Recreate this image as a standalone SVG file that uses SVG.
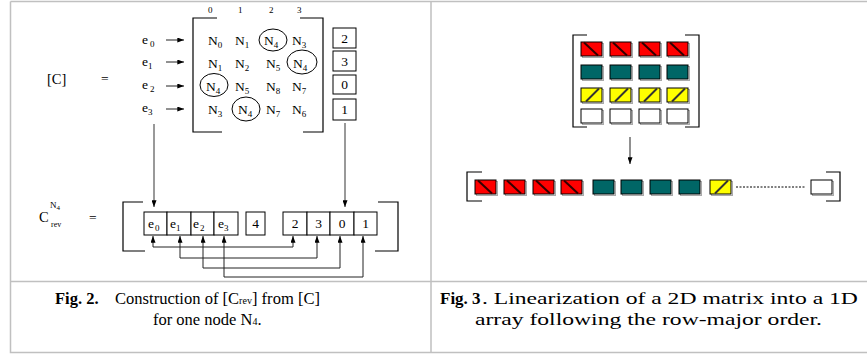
<svg xmlns="http://www.w3.org/2000/svg" xmlns:xlink="http://www.w3.org/1999/xlink" width="867" height="354" viewBox="0 0 867 354">
<style>
text{font-family:"Liberation Serif","Times New Roman",serif;fill:#000}
.t{font-size:13.5px}
.s{font-size:9px}
.idx{font-size:9px}
.cap{font-size:16.5px}
.b{font-weight:bold}
.frame{stroke:#c0c0c0;stroke-width:1.5;fill:none}
.br{stroke:#000;stroke-width:1.2;fill:none}
.cell{fill:#fff;stroke:#000;stroke-width:1}
.ln{stroke:#222;stroke-width:1;fill:none}
.gl{stroke:#555;stroke-width:1.2;fill:none}
.circ{fill:none;stroke:#000;stroke-width:1}
</style>
<defs>
<marker id="ah" viewBox="0 0 8 6" refX="8" refY="3" markerWidth="7" markerHeight="5" markerUnits="userSpaceOnUse" orient="auto-start-reverse"><path d="M0,0 L8,3 L0,6 z" fill="#000"/></marker>
<g id="red"><rect x="1.5" y="1.5" width="21" height="14" fill="none" stroke="#aaa"/><rect x="0" y="0" width="21" height="14" fill="#ff0000" stroke="#000"/><line x1="3" y1="0.5" x2="17" y2="13.5" stroke="#300" stroke-width="2"/></g>
<g id="teal"><rect x="1.5" y="1.5" width="21" height="14" fill="none" stroke="#aaa"/><rect x="0" y="0" width="21" height="14" fill="#006666" stroke="#000"/></g>
<g id="yel"><rect x="1.5" y="1.5" width="21" height="14" fill="none" stroke="#aaa"/><rect x="0" y="0" width="21" height="14" fill="#ffff00" stroke="#000"/><line x1="5" y1="13.5" x2="18" y2="0.5" stroke="#333" stroke-width="2"/></g>
<g id="wht"><rect x="1.5" y="1.5" width="21" height="14" fill="none" stroke="#aaa"/><rect x="0" y="0" width="21" height="14" fill="#fff" stroke="#000"/></g>
</defs>

<g id="table">
<path class="frame" d="M10.5,1.5 H867 M10.5,1.5 V352.5 H867 M431,1.5 V352.5 M10.5,281.5 H867"/>
</g>

<!-- Fig 2 -->
<g id="colIdx">
<text class="idx" x="208" y="13">0</text>
<text class="idx" x="238" y="13">1</text>
<text class="idx" x="269" y="13">2</text>
<text class="idx" x="297" y="13">3</text>
</g>

<g id="labelC">
<text font-size="14.5" x="47" y="84">[C]</text>
<text class="t" x="101" y="83">=</text>
</g>

<g id="eLabels">
<text class="t" x="142" y="44">e<tspan class="s" dx="2" dy="3">0</tspan></text>
<text class="t" x="142" y="66">e<tspan class="s" dy="3">1</tspan></text>
<text class="t" x="142" y="89">e<tspan class="s" dx="2" dy="3">2</tspan></text>
<text class="t" x="142" y="112">e<tspan class="s" dy="3">3</tspan></text>
</g>

<g id="matrixC">
<path class="br" d="M217,18 H193 V132 H222 M300,18 H323 V132 H303"/>
<text class="t" x="208" y="45">N<tspan class="s" dy="3">0</tspan></text>
<text class="t" x="235" y="45">N<tspan class="s" dy="3">1</tspan></text>
<text class="t" x="264" y="45">N<tspan class="s" dy="3">4</tspan></text>
<text class="t" x="292" y="45">N<tspan class="s" dy="3">3</tspan></text>
<text class="t" x="208" y="68">N<tspan class="s" dy="3">1</tspan></text>
<text class="t" x="235" y="68">N<tspan class="s" dy="3">2</tspan></text>
<text class="t" x="266" y="68">N<tspan class="s" dy="3">5</tspan></text>
<text class="t" x="293" y="68">N<tspan class="s" dy="3">4</tspan></text>
<text class="t" x="206" y="91">N<tspan class="s" dy="3">4</tspan></text>
<text class="t" x="235" y="91">N<tspan class="s" dy="3">5</tspan></text>
<text class="t" x="266" y="91">N<tspan class="s" dy="3">8</tspan></text>
<text class="t" x="292" y="91">N<tspan class="s" dy="3">7</tspan></text>
<text class="t" x="208" y="114">N<tspan class="s" dy="3">3</tspan></text>
<text class="t" x="238" y="114">N<tspan class="s" dy="3">4</tspan></text>
<text class="t" x="266" y="114">N<tspan class="s" dy="3">7</tspan></text>
<text class="t" x="292" y="114">N<tspan class="s" dy="3">6</tspan></text>
<ellipse class="circ" cx="273" cy="40" rx="14" ry="11"/>
<ellipse class="circ" cx="302" cy="62" rx="15" ry="12"/>
<ellipse class="circ" cx="214" cy="85" rx="14" ry="11.5"/>
<ellipse class="circ" cx="246" cy="109" rx="14" ry="12"/>
</g>

<g id="countBoxes">
<rect class="cell" x="333" y="28" width="23" height="20"/><text class="t" x="344.5" y="43" text-anchor="middle">2</text>
<rect class="cell" x="333" y="51" width="23" height="20"/><text class="t" x="344.5" y="66" text-anchor="middle">3</text>
<rect class="cell" x="333" y="75" width="23" height="19"/><text class="t" x="344.5" y="89" text-anchor="middle">0</text>
<rect class="cell" x="333" y="99" width="23" height="21"/><text class="t" x="344.5" y="114" text-anchor="middle">1</text>
</g>

<g id="labelCrev">
<text font-size="14.5" x="39" y="222">C</text>
<text class="s" x="50" y="208">N<tspan font-size="7" dy="2">4</tspan></text>
<text font-size="8" x="51" y="227">rev</text>
<text class="t" x="89" y="222">=</text>
</g>

<g id="crevArray">
<path class="br" d="M143,202 H123 V251 H145 M378,202 H398 V251 H375"/>
<rect class="cell" x="144" y="212" width="23" height="23"/><text class="t" x="148" y="228">e<tspan class="s" dx="1" dy="3">0</tspan></text>
<rect class="cell" x="167" y="212" width="24" height="23"/><text class="t" x="170" y="228">e<tspan class="s" dy="3">1</tspan></text>
<rect class="cell" x="191" y="212" width="23" height="23"/><text class="t" x="193" y="228">e<tspan class="s" dx="1" dy="3">2</tspan></text>
<rect class="cell" x="214" y="212" width="24" height="23"/><text class="t" x="218" y="228">e<tspan class="s" dy="3">3</tspan></text>
<rect class="cell" x="246" y="212" width="19" height="23"/><text class="t" x="255.5" y="228" text-anchor="middle">4</text>
<rect class="cell" x="283" y="212" width="24" height="23"/><text class="t" x="295" y="228" text-anchor="middle">2</text>
<rect class="cell" x="307" y="212" width="23" height="23"/><text class="t" x="318.5" y="228" text-anchor="middle">3</text>
<rect class="cell" x="330" y="212" width="24" height="23"/><text class="t" x="342" y="228" text-anchor="middle">0</text>
<rect class="cell" x="354" y="212" width="23" height="23"/><text class="t" x="365.5" y="228" text-anchor="middle">1</text>
</g>

<g id="connectors">
<line class="ln" x1="166" y1="40" x2="184" y2="40" marker-end="url(#ah)"/>
<line class="ln" x1="166" y1="62" x2="184" y2="62" marker-end="url(#ah)"/>
<line class="ln" x1="166" y1="86" x2="184" y2="86" marker-end="url(#ah)"/>
<line class="ln" x1="166" y1="109" x2="184" y2="109" marker-end="url(#ah)"/>
<line class="gl" x1="154" y1="124" x2="154" y2="207" marker-end="url(#ah)"/>
<line class="gl" x1="345" y1="123" x2="345" y2="207" marker-end="url(#ah)"/>
<path class="ln" d="M153,236 V247 H293 V236" marker-start="url(#ah)" marker-end="url(#ah)"/>
<path class="ln" d="M180,236 V258 H317 V236" marker-start="url(#ah)" marker-end="url(#ah)"/>
<path class="ln" d="M203,236 V268 H340 V236" marker-start="url(#ah)" marker-end="url(#ah)"/>
<path class="ln" d="M224,236 V277 H363 V236" marker-start="url(#ah)" marker-end="url(#ah)"/>
<line class="ln" x1="630" y1="137" x2="630" y2="164" marker-end="url(#ah)"/>
<line x1="736" y1="187" x2="805" y2="187" stroke="#000" stroke-width="1" stroke-dasharray="2,1.5"/>
</g>

<!-- Fig 3 -->
<g id="matrix2D">
<path class="br" d="M587,35 H573 V127 H587 M685,35 H699 V127 H685"/>
<use xlink:href="#red" x="581" y="42"/><use xlink:href="#red" x="610" y="42"/><use xlink:href="#red" x="639" y="42"/><use xlink:href="#red" x="667" y="42"/>
<use xlink:href="#teal" x="581" y="65"/><use xlink:href="#teal" x="610" y="65"/><use xlink:href="#teal" x="639" y="65"/><use xlink:href="#teal" x="667" y="65"/>
<use xlink:href="#yel" x="581" y="88"/><use xlink:href="#yel" x="610" y="88"/><use xlink:href="#yel" x="639" y="88"/><use xlink:href="#yel" x="667" y="88"/>
<use xlink:href="#wht" x="581" y="109"/><use xlink:href="#wht" x="610" y="109"/><use xlink:href="#wht" x="639" y="109"/><use xlink:href="#wht" x="667" y="109"/>
</g>

<g id="array1D">
<path class="br" d="M482,172 H467 V201 H482 M826,172 H840 V201 H826"/>
<use xlink:href="#red" x="475" y="180"/><use xlink:href="#red" x="504" y="180"/><use xlink:href="#red" x="533" y="180"/><use xlink:href="#red" x="561" y="180"/>
<use xlink:href="#teal" x="593" y="180"/><use xlink:href="#teal" x="621" y="180"/><use xlink:href="#teal" x="650" y="180"/><use xlink:href="#teal" x="679" y="180"/>
<use xlink:href="#yel" x="710" y="180"/>
<use xlink:href="#wht" x="811" y="180"/>
</g>

<g id="captions">
<text class="cap b" x="55" y="304">Fig. 2.</text>
<text class="cap" x="115" y="304" textLength="205" lengthAdjust="spacingAndGlyphs">Construction of [C<tspan font-size="10">rev</tspan>] from [C]</text>
<text class="cap" x="153" y="325">for one node N<tspan font-size="10">4</tspan>.</text>
<text class="b" font-size="17" x="440" y="304">Fig. 3</text>
<text font-size="17" transform="translate(482,304) scale(1.39,1)" x="0" y="0">. Linearization of a 2D matrix into a 1D</text>
<text font-size="17" transform="translate(475,325) scale(1.39,1)" x="0" y="0">array following the row-major order.</text>
</g>
</svg>
